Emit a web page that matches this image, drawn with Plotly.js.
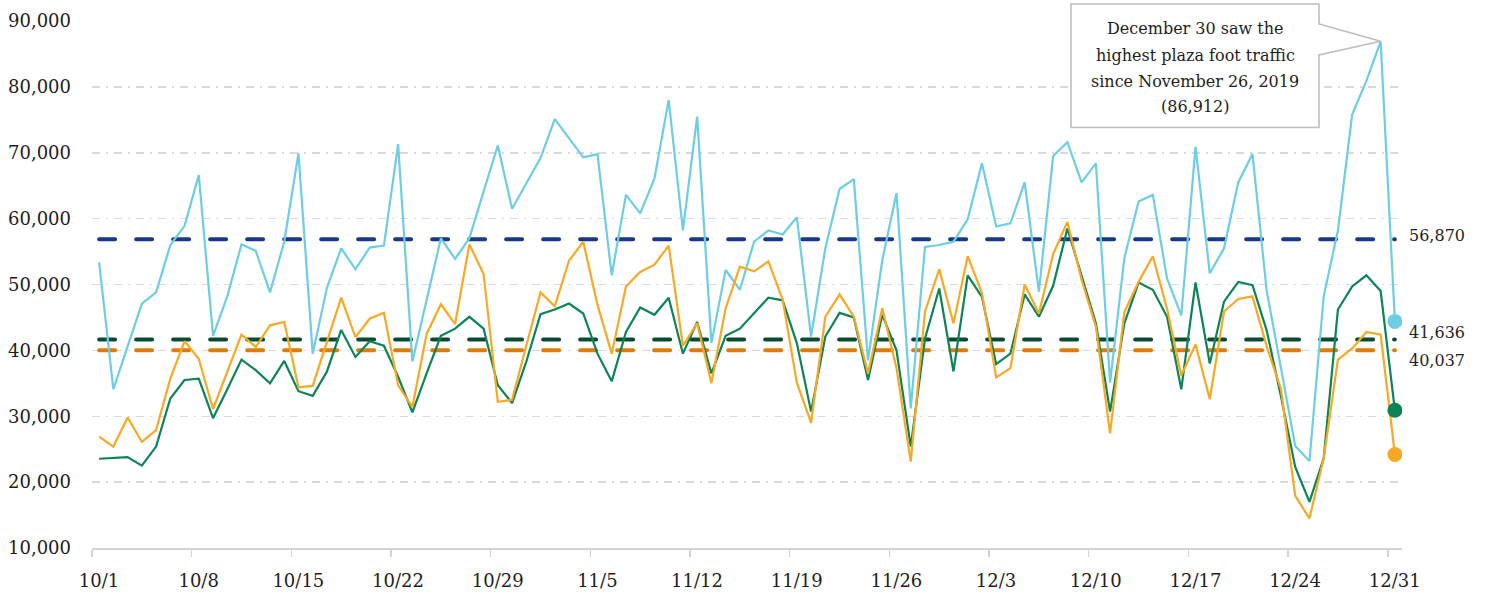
<!DOCTYPE html>
<html>
<head>
<meta charset="utf-8">
<script src="https://cdn.plot.ly/plotly-3.0.1.min.js"></script>
<style>html,body{margin:0;padding:0;background:#fff;}#chart{width:1485px;height:594px;}</style>
</head>
<body>
<div id="chart"></div>
<script>
// ---- Data ----
const startDate = '2020-10-01';
const tickLabels = ['10/1','10/8','10/15','10/22','10/29','11/5','11/12','11/19','11/26','12/3','12/10','12/17','12/24','12/31'];

const seriesBlue = [53370,34100,40600,47100,48800,56000,58900,66600,42200,48200,
  56100,55100,48800,56500,69900,39500,49500,55500,52300,55600,
  55900,71300,38300,47700,57000,53900,57000,64100,71100,61500,
  65300,69200,75100,72200,69300,69800,51400,63600,60800,66100,
  78000,58200,75500,41100,52200,49200,56500,58200,57600,60200,
  42100,55500,64500,66000,38500,53700,63900,31200,55700,56000,
  56500,59900,68400,58800,59300,65500,48900,69500,71600,65500,
  68400,35100,54000,62600,63600,50900,45300,70900,51700,55500,
  65500,69800,49000,37300,25500,23200,48200,58200,75800,80900,86912,44400];

const seriesGreen = [23550,23700,23800,22500,25400,32700,35500,35700,29700,34100,
  38600,37000,35000,38400,33800,33100,36800,43100,39000,41400,
  40700,36000,30600,36500,42200,43300,45100,43300,34700,32000,
  38300,45500,46200,47100,45600,39500,35300,42800,46500,45400,
  48000,39500,44300,36500,42200,43300,45600,48000,47600,41100,
  30700,42100,45700,45000,35500,45400,40000,25400,41800,49400,
  36800,51400,48100,37900,39500,48500,45100,49800,58500,51200,
  44100,30700,44100,50300,49200,45100,34100,50300,38000,47400,
  50400,49900,43000,33000,22300,17000,23600,46200,49700,51400,49000,30900];

const seriesOrange = [26900,25400,29800,26100,27900,35700,41400,38700,31100,36800,
  42400,40500,43800,44300,34400,34600,41300,48000,42000,44800,
  45700,34700,31400,42500,47000,44000,56100,51600,32200,32500,
  40700,48800,46700,53600,56500,46900,39500,49700,51900,53000,
  55900,40700,44100,35000,46400,52700,52000,53500,47700,35100,
  29000,45100,48500,45100,36500,46400,37300,23100,45900,52300,
  44100,54300,48700,35900,37300,50000,45600,54600,59500,50700,
  43600,27400,45800,50400,54300,46300,36200,40900,32600,45900,
  47800,48200,40600,34100,17900,14500,23600,38600,40300,42800,42400,24200];

const meanValues = [56870, 41636, 40037];
const meanLabels = ['56,870', '41,636', '40,037'];
const peakIndex = 90;
const peakText = ['December 30 saw the', 'highest plaza foot traffic', 'since November 26, 2019', '(86,912)'];

// ---- Build dates ----
function addDays(iso, n) {
  const d = new Date(iso + 'T00:00:00Z');
  d.setUTCDate(d.getUTCDate() + n);
  return d.toISOString().slice(0, 10);
}
const nDays = seriesBlue.length;
const dates = [];
for (let i = 0; i < nDays; i++) dates.push(addDays(startDate, i) + ' 12:00');
const tickVals = tickLabels.map(l => {
  const [m, d] = l.split('/');
  return '2020-' + m.padStart(2, '0') + '-' + d.padStart(2, '0');
});
const rangeEnd = addDays(startDate, nDays);

// ---- Styles ----
const lineColors = ['#6ccde3', '#0b8456', '#f9a825'];
const meanColors = ['#18398b', '#0a4a33', '#e07c05'];
const fontFam = 'DejaVu Serif, Georgia, serif';
const yMin = 10000, yMax = 90000;

const traces = [];
meanValues.forEach((v, k) => {
  traces.push({
    x: [dates[0], dates[nDays - 1]], y: [v, v], mode: 'lines', hoverinfo: 'skip',
    line: {color: meanColors[k], width: 4, dash: '16px,21px'}
  });
});
[seriesBlue, seriesGreen, seriesOrange].forEach((s, k) => {
  traces.push({x: dates, y: s, mode: 'lines', line: {color: lineColors[k], width: 2.2}});
});
[seriesBlue, seriesGreen, seriesOrange].forEach((s, k) => {
  traces.push({x: [dates[nDays - 1]], y: [s[nDays - 1]], mode: 'markers',
    marker: {color: lineColors[k], size: 15}});
});

// callout box (paper coords) with pointer to the peak
const plotL = 92, plotR = 1402, plotT = 21, plotB = 548;
const px = p => (p - plotL) / (plotR - plotL);
const py = p => (plotB - p) / (plotB - plotT);
const tipX = (peakIndex + 0.5) / nDays;
const tipY = (seriesBlue[peakIndex] - yMin) / (yMax - yMin);
const bL = px(1071), bR = px(1319), bT = py(4), bB = py(127.5), pU = py(24), pD = py(55);
const path = `M ${bL} ${bB} L ${bL} ${bT} L ${bR} ${bT} L ${bR} ${pU} L ${tipX} ${tipY} L ${bR} ${pD} L ${bR} ${bB} Z`;

const annotations = [];
const lineYs = [29, 55, 81, 106.5];
peakText.forEach((t, k) => {
  annotations.push({xref: 'paper', yref: 'paper', x: px(1195), y: py(lineYs[k]),
    xanchor: 'center', yanchor: 'middle', showarrow: false, text: t,
    font: {family: fontFam, size: 16, color: '#1e1e1e'}});
});
const labelShift = [4, 7, -10];
meanValues.forEach((v, k) => {
  annotations.push({xref: 'paper', yref: 'y', x: px(1407), y: v, yshift: labelShift[k],
    xanchor: 'left', yanchor: 'middle', showarrow: false, text: meanLabels[k],
    font: {family: fontFam, size: 16, color: '#1e1e1e'}});
});

const layout = {
  width: 1485, height: 594,
  margin: {l: plotL, r: 1485 - plotR, t: plotT, b: 594 - plotB},
  paper_bgcolor: '#ffffff', plot_bgcolor: '#ffffff',
  showlegend: false,
  xaxis: {
    type: 'date', range: [startDate, rangeEnd],
    tickmode: 'array', tickvals: tickVals, ticktext: tickLabels,
    ticks: 'outside', ticklen: 7, tickwidth: 1.5, tickcolor: '#d3d3d3',
    showline: true, linecolor: '#d3d3d3', linewidth: 2,
    showgrid: false, zeroline: false,
    ticklabelshift: 7, ticklabelstandoff: 8,
    tickfont: {family: fontFam, size: 18, color: '#1e1e1e'}
  },
  yaxis: {
    range: [yMin, yMax], dtick: 10000, tickformat: ',d',
    showgrid: true, gridcolor: '#d9d9d9', gridwidth: 1.5, griddash: '8px,6px,2px,6px',
    zeroline: false, showline: false, ticks: '',
    ticklabelstandoff: 20,
    tickfont: {family: fontFam, size: 18, color: '#1e1e1e'}
  },
  shapes: [{type: 'path', xref: 'paper', yref: 'paper', path: path,
    fillcolor: '#ffffff', line: {color: '#bdbdbd', width: 1.6}, layer: 'above'}],
  annotations: annotations
};

Plotly.newPlot('chart', traces, layout, {staticPlot: true}).then(() => {
  const tr = document.querySelectorAll('.scatterlayer .trace');
  for (let k = 0; k < meanValues.length; k++) {
    const p = tr[k] && tr[k].querySelector('path.js-line');
    if (p) p.style.strokeLinecap = 'round';
  }
});
</script>
</body>
</html>
